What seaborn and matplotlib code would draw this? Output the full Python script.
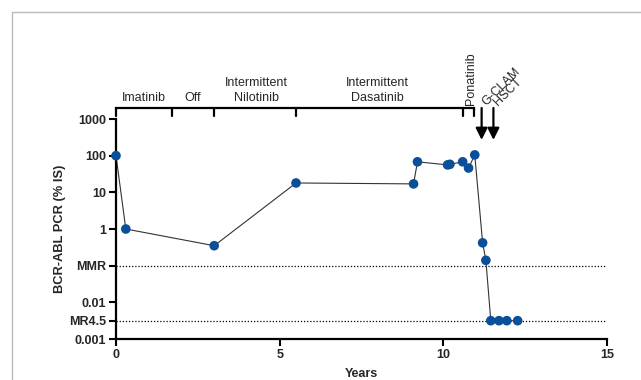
import numpy as np
import pandas as pd
import seaborn as sns
import matplotlib.pyplot as plt
from matplotlib.lines import Line2D

sns.set_style("white")
plt.rcParams['font.family'] = ['Liberation Sans', 'DejaVu Sans']

# BCR-ABL measurements
years = [0, 0.3, 3.0, 5.5, 9.09, 9.21, 10.13, 10.2, 10.59, 10.77, 10.96,
         11.2, 11.3, 11.45, 11.7, 11.94, 12.27]
pcr = [100, 1, 0.35, 18, 17, 68, 56, 58, 68, 46, 105,
       0.42, 0.14, 0.00316, 0.00316, 0.00316, 0.00316]

ytick_vals = [1000, 100, 10, 1, 0.1, 0.01, 0.00316, 0.001]
ytick_labels = ['1000', '100', '10', '1', 'MMR', '0.01', 'MR4.5', '0.001']
ref_lines = [0.1, 0.00316]

# treatment bar on top
bar_ticks = [0, 1.7, 3.0, 5.5, 10.6, 10.95]
bar_labels = ['Imatinib', 'Off', 'Intermittent\nNilotinib', 'Intermittent\nDasatinib']
bar_label_x = [0.85, 2.35, 4.3, 8.0]
arrow_x = [11.17, 11.53]
arrow_labels = ['G-CLAM', 'HSCT']

df = pd.DataFrame({'Years': years, 'PCR': pcr})

fig = plt.figure(figsize=(6.41, 3.80), dpi=100)
ax = fig.add_axes([116/641, 1-339/380, 491/641, 220/380])

for y in ref_lines:
    ax.plot([0, 15], [y, y], ls=(0, (1, 1.5)), color='black', lw=0.9, zorder=1)

sns.lineplot(data=df, x='Years', y='PCR', ax=ax, color='#333333', lw=0.8,
             sort=False, estimator=None, zorder=2)
sns.scatterplot(data=df, x='Years', y='PCR', ax=ax, color='#0a4f9a', s=48,
                edgecolor='none', zorder=3, clip_on=False)

ax.set_yscale('log')
ax.set_ylim(0.001, 1000)
ax.set_xlim(0, 15)
ax.set_yticks(ytick_vals)
ax.set_yticklabels(ytick_labels)
ax.minorticks_off()
ax.set_xticks([0, 5, 10, 15])
ax.set_xticklabels(['0', '5', '10', '15'])
for lab in ax.get_xticklabels() + ax.get_yticklabels():
    lab.set_fontweight('bold')
    lab.set_fontsize(9)
ax.tick_params(axis='both', length=5, width=1.5, color='black', pad=2, direction='out')
ax.tick_params(axis='x', bottom=True)
ax.tick_params(axis='y', left=True)

for s in ['top', 'right']:
    ax.spines[s].set_visible(False)
for s in ['left', 'bottom']:
    ax.spines[s].set_linewidth(1.6)
    ax.spines[s].set_color('black')

ax.set_xlabel('Years', fontsize=9, fontweight='bold', labelpad=5)
ax.set_ylabel('BCR-ABL PCR (% IS)', fontsize=9.3, fontweight='bold', labelpad=2)

# treatment bar
tr = ax.get_xaxis_transform()
ybar = 1.05
ax.plot([bar_ticks[0], bar_ticks[-1]], [ybar, ybar], color='black', lw=1.6,
        transform=tr, clip_on=False, solid_capstyle='projecting')
for bx in bar_ticks:
    ax.plot([bx, bx], [ybar, ybar - 0.035], color='black', lw=1.6,
            transform=tr, clip_on=False)
for lx, lab in zip(bar_label_x, bar_labels):
    ax.text(lx, 1.068, lab, transform=tr, ha='center', va='bottom', fontsize=9,
            linespacing=1.3)
ax.text(10.85, 1.062, 'Ponatinib', transform=tr, rotation=90, ha='center',
        va='bottom', fontsize=9)
for axx, lab in zip(arrow_x, arrow_labels):
    ax.annotate('', xy=(axx, 0.905), xytext=(axx, ybar), xycoords=tr,
                textcoords=tr,
                arrowprops=dict(arrowstyle='-|>,head_width=0.35,head_length=0.7',
                                color='black', lw=1.6, shrinkA=0, shrinkB=0))
    ax.text(axx + 0.2, 1.05, lab, transform=tr, rotation=45, ha='left',
            va='bottom', fontsize=9, rotation_mode='anchor')

# light frame from the source crop
fx, fy = 12/641, 1 - 12/380
fig.add_artist(Line2D([fx, 1], [fy, fy], color='#bbbbbb', lw=1))
fig.add_artist(Line2D([fx, fx], [0, fy], color='#bbbbbb', lw=1))

fig.savefig('out.png', dpi=100)
